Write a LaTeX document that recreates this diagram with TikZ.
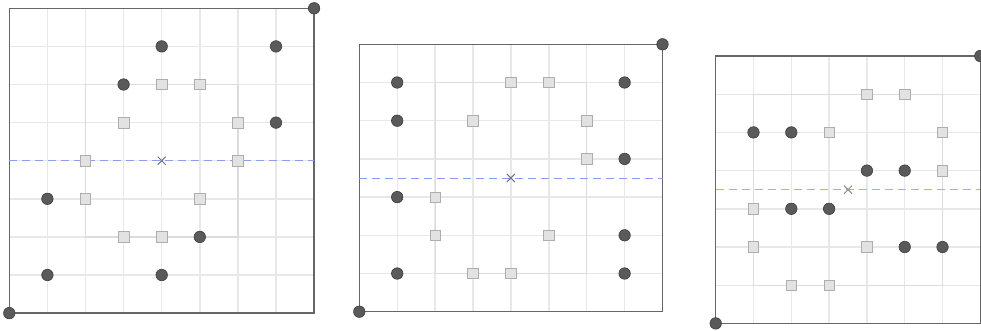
\documentclass[tikz,border=0pt]{standalone}
\usetikzlibrary{shapes.misc}
\definecolor{gridc}{HTML}{E8E8E8}
\definecolor{innerc}{HTML}{DCDCDC}
\definecolor{framec}{HTML}{666666}
\definecolor{dotc}{HTML}{5A5A5A}
\definecolor{dotb}{HTML}{3C3C3C}
\definecolor{sqf}{HTML}{E2E2E2}
\definecolor{sqb}{HTML}{AEAEAE}
\definecolor{dashc}{HTML}{8C9EF0}
\definecolor{dashl}{HTML}{A4AEE6}
\definecolor{crossc}{HTML}{6C7290}
\definecolor{crossg}{HTML}{8A8A8A}
\tikzset{
  gridline/.style={draw=gridc, line width=1.4pt},
  innerline/.style={draw=innerc, line width=1.2pt},
  frameline/.style={draw=framec, line width=1.3pt},
  dotnode/.style={circle, fill=dotc, draw=dotb, line width=0.6pt, minimum size=11.5pt, inner sep=0pt},
  sqnode/.style={rectangle, fill=sqf, draw=sqb, line width=0.7pt, minimum size=10.5pt, inner sep=0pt},
  axisline/.style={draw=#1, line width=1pt, dash pattern=on 8pt off 5pt},
  crossnode/.style={cross out, draw=#1, line width=1pt, minimum size=7pt, inner sep=0pt},
}
\begin{document}
\begin{tikzpicture}[x=1pt,y=-1pt]
\useasboundingbox (0,0) rectangle (981,330);

% ---------- Panel 1 ----------
\begin{scope}[xshift=9.3pt, yshift=-8.3pt, x=38.1pt, y=-38.1pt]
  \foreach \i in {1,...,7} \draw[gridline] (\i,0) -- (\i,8);
  \foreach \j in {1,...,7} \draw[gridline] (0,\j) -- (8,\j);
  \draw[innerline] (2,2) rectangle (6,6);
  \draw[frameline] (0,0) rectangle (8,8);
  \coordinate (La) at (0,4);
  \coordinate (Ra) at (8,4);
  \draw[axisline=dashc] (La) -- (Ra);
  \foreach \x/\y [count=\k] in {4/2,5/2,3/3,6/3,2/4,6/4,2/5,5/5,3/6,4/6}
    \node[sqnode] (sa\k) at (\x,\y) {};
  \foreach \x/\y [count=\k] in {8/0,0/8,4/1,7/1,3/2,7/3,1/5,5/6,1/7,4/7}
    \node[dotnode] (da\k) at (\x,\y) {};
  \node[crossnode=crossc] (ca) at (4,4) {};
\end{scope}

% ---------- Panel 2 ----------
\begin{scope}[xshift=359.3pt, yshift=-44.3pt, x=37.9pt, y=-38.2pt]
  \foreach \i in {1,...,7} \draw[gridline] (\i,0) -- (\i,7);
  \foreach \j in {1,...,6} \draw[gridline] (0,\j) -- (8,\j);
  \draw[innerline] (2,1) rectangle (6,6);
  \draw[frameline] (0,0) rectangle (8,7);
  \coordinate (Lb) at (0,3.5);
  \coordinate (Rb) at (8,3.5);
  \draw[axisline=dashc] (Lb) -- (Rb);
  \foreach \x/\y [count=\k] in {4/1,5/1,3/2,6/2,6/3,2/4,2/5,5/5,3/6,4/6}
    \node[sqnode] (sb\k) at (\x,\y) {};
  \foreach \x/\y [count=\k] in {8/0,0/7,1/1,7/1,1/2,7/3,1/4,7/5,1/6,7/6}
    \node[dotnode] (db\k) at (\x,\y) {};
  \node[crossnode=crossc] (cb) at (4,3.5) {};
\end{scope}

% ---------- Panel 3 ----------
\begin{scope}[xshift=715.7pt, yshift=-56pt, x=37.8pt, y=-38.2pt]
  \foreach \i in {1,...,6} \draw[gridline] (\i,0) -- (\i,7);
  \foreach \j in {1,...,6} \draw[gridline] (0,\j) -- (7,\j);
  \draw[innerline] (1,1) rectangle (6,6);
  \draw[frameline] (0,0) rectangle (7,7);
  \coordinate (Lc) at (0,3.5);
  \coordinate (Rc) at (7,3.5);
  \draw[axisline=dashl] (Lc) -- (Rc);
  \foreach \x/\y [count=\k] in {4/1,5/1,3/2,6/2,6/3,1/4,1/5,4/5,2/6,3/6}
    \node[sqnode] (sc\k) at (\x,\y) {};
  \foreach \x/\y [count=\k] in {7/0,0/7,1/2,2/2,4/3,5/3,2/4,3/4,5/5,6/5}
    \node[dotnode] (dc\k) at (\x,\y) {};
  \node[crossnode=crossg] (cc) at (3.5,3.5) {};
\end{scope}
\end{tikzpicture}
\end{document}
